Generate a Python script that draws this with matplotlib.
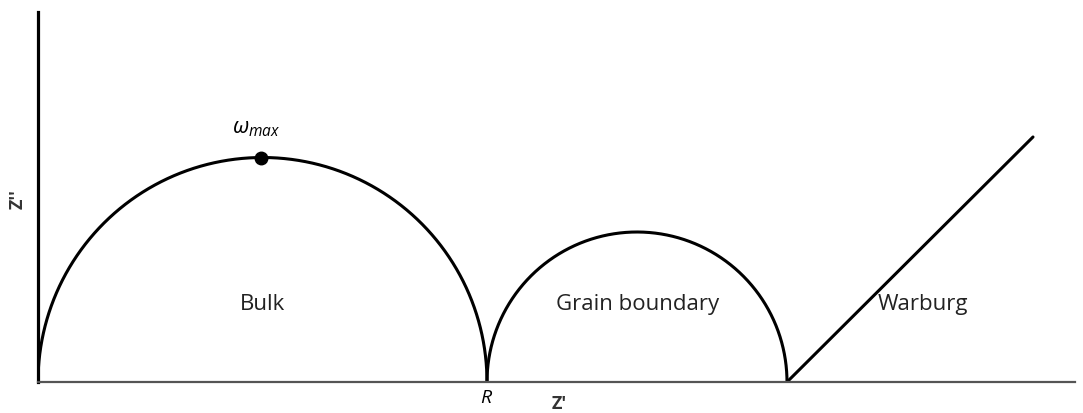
import numpy as np
import matplotlib
matplotlib.use("Agg")
import matplotlib.pyplot as plt

plt.rcParams["font.family"] = ["Open Sans", "DejaVu Sans"]
plt.rcParams["mathtext.fontset"] = "custom"
plt.rcParams["mathtext.it"] = "Open Sans:italic"
plt.rcParams["mathtext.rm"] = "Open Sans"

# Equivalent-circuit parameters (arbitrary units)
r_bulk = 449.0
r_gb = 300.0
warburg_len = 246.0
omega_max_x = 223.0

region_labels = ["Bulk", "Grain boundary", "Warburg"]

# Semicircles: bulk arc from 0 to R, grain boundary from R to R + R_gb
theta = np.linspace(np.pi, 0, 400)
bulk_c = r_bulk / 2
bulk_x = bulk_c + bulk_c * np.cos(theta)
bulk_y = bulk_c * np.sin(theta)
gb_c = r_bulk + r_gb / 2
gb_x = gb_c + (r_gb / 2) * np.cos(theta)
gb_y = (r_gb / 2) * np.sin(theta)
w_x = np.array([r_bulk + r_gb, r_bulk + r_gb + warburg_len])
w_y = np.array([0, warburg_len * 0.996])

fig = plt.figure(figsize=(10.83, 4.14), dpi=100)
ax = fig.add_axes([38 / 1083, 31 / 414, 1037 / 1083, 370 / 414])
ax.set_xlim(0, 1037)
ax.set_ylim(0, 370)

ax.plot(bulk_x, bulk_y, color="black", lw=2.2, solid_capstyle="butt")
ax.plot(gb_x, gb_y, color="black", lw=2.2, solid_capstyle="butt")
ax.plot(w_x, w_y, color="black", lw=2.2, solid_capstyle="round")

# frequency maximum of the bulk arc
wy = np.sqrt(bulk_c**2 - (omega_max_x - bulk_c) ** 2)
ax.plot([omega_max_x], [wy], "o", color="black", ms=9)
ax.text(omega_max_x - 5, wy + 20, r"$\omega_{max}$", fontsize=16, ha="center", va="bottom")

ax.text(bulk_c, 78, region_labels[0], fontsize=16, ha="center", va="center", color="#222222")
ax.text(gb_c + 1, 78, region_labels[1], fontsize=16, ha="center", va="center", color="#222222")
ax.text(r_bulk + r_gb + 91, 78, region_labels[2], fontsize=16, ha="left", va="center", color="#222222")

ax.text(r_bulk, -6, r"$R$", fontsize=14, ha="center", va="top")
ax.text(521, -12, "Z'", fontsize=13, ha="center", va="top", fontweight="bold", color="#333333")
ax.text(-20, 184, "Z''", fontsize=13, ha="center", va="center", rotation=90,
        fontweight="bold", color="#333333")

for s in ["top", "right"]:
    ax.spines[s].set_visible(False)
ax.spines["left"].set_linewidth(2.3)
ax.spines["left"].set_color("black")
ax.spines["bottom"].set_linewidth(1.6)
ax.spines["bottom"].set_color("#555555")
ax.set_xticks([])
ax.set_yticks([])

fig.savefig("out.png", dpi=100)
